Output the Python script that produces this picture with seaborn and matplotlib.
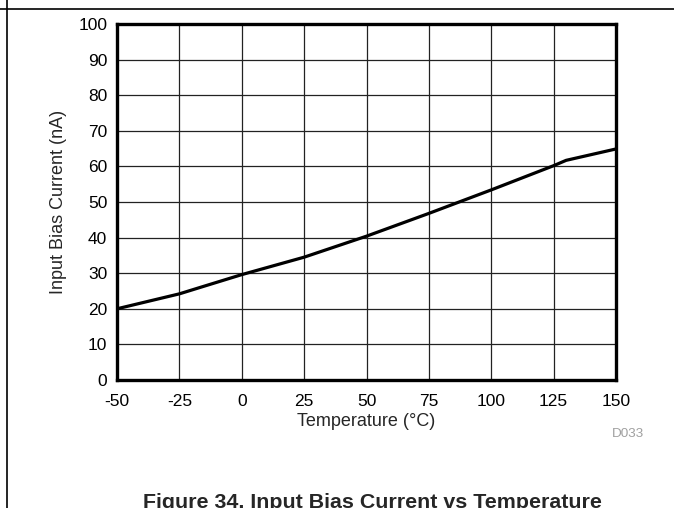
import matplotlib
matplotlib.use("Agg")
import matplotlib.pyplot as plt
import seaborn as sns
import pandas as pd

# values
temperature_c = [-50, -25, -16.7, 0, 25, 50, 75, 100, 125, 130, 150]
bias_current_na = [20.0, 24.2, 26.0, 29.6, 34.5, 40.4, 46.8, 53.4, 60.2, 61.7, 64.9]

x_ticks = [-50, -25, 0, 25, 50, 75, 100, 125, 150]
y_ticks = [0, 10, 20, 30, 40, 50, 60, 70, 80, 90, 100]

sns.set_style("white")
plt.rcParams["font.family"] = ["Liberation Sans", "DejaVu Sans"]

df = pd.DataFrame({"temp": temperature_c, "ib": bias_current_na})

fig = plt.figure(figsize=(6.74, 5.08), dpi=100)
ax = fig.add_axes([117 / 674, 128 / 508, 499 / 674, 356 / 508])

sns.lineplot(data=df, x="temp", y="ib", ax=ax, color="black", linewidth=2.3)

ax.set_xlim(-50, 150)
ax.set_ylim(0, 100)
ax.set_xticks(x_ticks)
ax.set_yticks(y_ticks)
ax.set_xticklabels([str(t) for t in x_ticks])
ax.grid(True, color="#222222", linewidth=0.9)
ax.tick_params(length=0, labelsize=12.5, colors="black")
ax.tick_params(axis="x", pad=10.2)
ax.tick_params(axis="y", pad=7)
for s in ax.spines.values():
    s.set_visible(True)
    s.set_color("black")
    s.set_linewidth(2.4)

ax.set_xlabel("Temperature (°C)", fontsize=13, labelpad=3)
ax.set_ylabel("Input Bias Current (nA)", fontsize=13, labelpad=8)

fig.text(644 / 674, 1 - 437 / 508, "D033", ha="right", va="baseline",
         fontsize=9.7, color="#a0a0a0")
fig.text(372 / 674, 1 - 508 / 508, "Figure 34. Input Bias Current vs Temperature",
         ha="center", va="baseline", fontsize=15.4, fontweight="bold")

# table border pieces around the figure cell
fig.add_artist(plt.Line2D([0, 1], [1 - 9 / 508, 1 - 9 / 508], color="black", linewidth=1.2))
fig.add_artist(plt.Line2D([7 / 674, 7 / 674], [0, 1], color="black", linewidth=1.2))

fig.savefig("out.png", dpi=100)
